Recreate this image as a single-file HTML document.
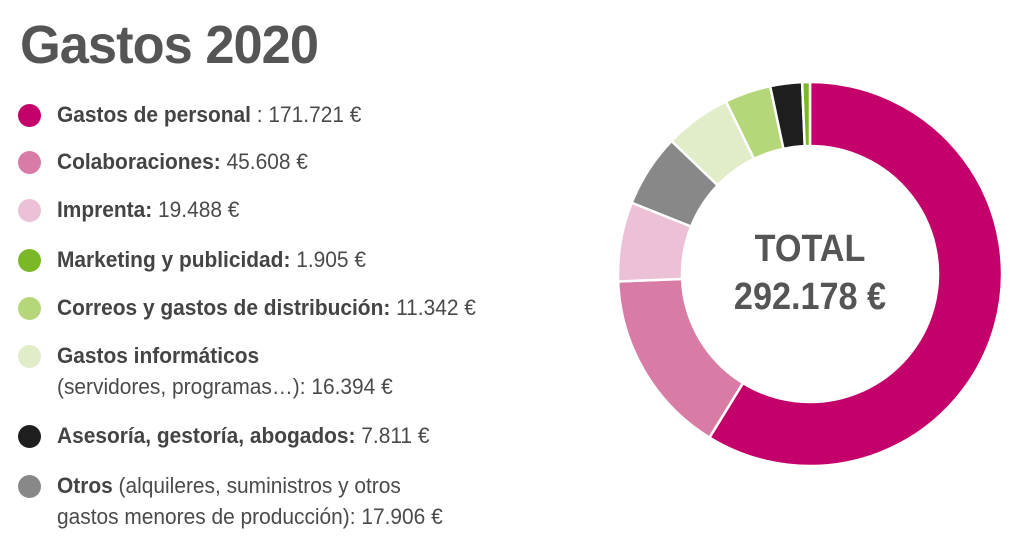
<!DOCTYPE html>
<html><head><meta charset="utf-8"><style>
body{margin:0;width:1024px;height:538px;background:#fff;overflow:hidden;position:relative;font-family:"Liberation Sans",sans-serif;color:#4a4a4a}
h1{position:absolute;left:20px;top:14px;margin:0;font-size:54px;font-weight:bold;color:#555;letter-spacing:-1px;transform:scaleX(0.97);transform-origin:left}
.it{position:absolute;left:57px;font-size:22px;line-height:31px;white-space:nowrap;transform:scaleX(0.95);transform-origin:left}
.it b{color:#444}
.dot{position:absolute;left:18px;width:23px;height:23px;border-radius:50%}
.tot{position:absolute;left:690px;width:240px;text-align:center;font-weight:bold;color:#555;font-size:38px;line-height:48px;top:225px;transform:scaleX(0.9)}
</style></head><body>
<h1>Gastos 2020</h1>
<div class="dot" style="top:104px;background:#c4006a"></div><div class="it" style="top:99px"><b>Gastos de personal</b> : 171.721 €</div>
<div class="dot" style="top:151px;background:#d97ca5"></div><div class="it" style="top:146px"><b>Colaboraciones:</b> 45.608 €</div>
<div class="dot" style="top:199px;background:#ecc0d6"></div><div class="it" style="top:194px"><b>Imprenta:</b> 19.488 €</div>
<div class="dot" style="top:249px;background:#7ab828"></div><div class="it" style="top:244px"><b>Marketing y publicidad:</b> 1.905 €</div>
<div class="dot" style="top:297px;background:#b6d67a"></div><div class="it" style="top:292px"><b>Correos y gastos de distribución:</b> 11.342 €</div>
<div class="dot" style="top:345px;background:#e1ecc8"></div><div class="it" style="top:340px"><b>Gastos informáticos</b><br>(servidores, programas…): 16.394 €</div>
<div class="dot" style="top:425px;background:#1e1e1e"></div><div class="it" style="top:420px"><b>Asesoría, gestoría, abogados:</b> 7.811 €</div>
<div class="dot" style="top:475px;background:#888"></div><div class="it" style="top:470px"><b>Otros</b> (alquileres, suministros y otros<br>gastos menores de producción): 17.906 €</div>
<svg id="s" width="1024" height="538" style="position:absolute;left:0;top:0"></svg>
<div class="tot">TOTAL<br>292.178 €</div>
<script>
var d=[[171721,"#c4006a"],[45608,"#d97ca5"],[19488,"#ecc0d6"],[17906,"#888888"],[16394,"#e1ecc8"],[11342,"#b6d67a"],[7811,"#1e1e1e"],[1905,"#7ab828"]];
var T=292178,cx=810,cy=274,R=192,r=128,a=-Math.PI/2,h="";
function p(ang,rad){return (cx+rad*Math.cos(ang)).toFixed(2)+","+(cy+rad*Math.sin(ang)).toFixed(2)}
d.forEach(function(e){var b=a+e[0]/T*2*Math.PI,l=(b-a)>Math.PI?1:0;
h+='<path d="M'+p(a,R)+'A'+R+','+R+' 0 '+l+' 1 '+p(b,R)+'L'+p(b,r)+'A'+r+','+r+' 0 '+l+' 0 '+p(a,r)+'Z" fill="'+e[1]+'" stroke="#fff" stroke-width="2.5"/>';a=b;});
document.getElementById("s").innerHTML=h;
</script>
</body></html>
